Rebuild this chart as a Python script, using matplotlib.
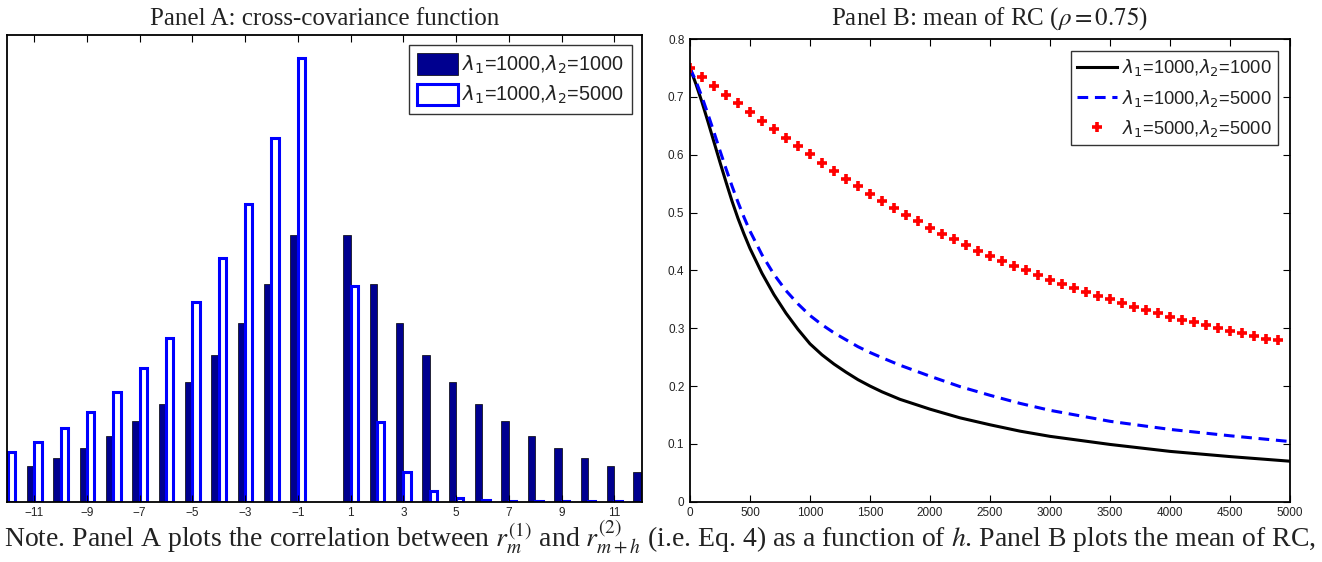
import numpy as np
import matplotlib
matplotlib.use('Agg')
import matplotlib.pyplot as plt

plt.rcParams['font.family'] = ['Liberation Sans', 'DejaVu Sans']
plt.rcParams['mathtext.fontset'] = 'stix'

# Panel A: cross-covariance by lag h (lag 0 is empty)
lags = [-12, -11, -10, -9, -8, -7, -6, -5, -4, -3, -2, -1,
        1, 2, 3, 4, 5, 6, 7, 8, 9, 10, 11, 12]
cov_1000_1000 = [0.044, 0.054, 0.066, 0.081, 0.0985, 0.121, 0.147, 0.18, 0.22, 0.268, 0.327, 0.40,
                 0.40, 0.327, 0.268, 0.22, 0.18, 0.147, 0.121, 0.0985, 0.081, 0.066, 0.054, 0.044]
cov_1000_5000 = [0.074, 0.09, 0.11, 0.135, 0.165, 0.201, 0.245, 0.299, 0.366, 0.447, 0.546, 0.666,
                 0.324, 0.119, 0.044, 0.016, 0.006, 0.0025, 0.0012, 0.0008, 0.0006, 0.0005, 0.0005, 0.0005]
lag_ticks = [-11, -9, -7, -5, -3, -1, 1, 3, 5, 7, 9, 11]

# Panel B: mean of RC
h_lines = [0, 50, 100, 150, 200, 250, 300, 350, 400, 450, 500, 600, 700, 800, 900,
           1000, 1100, 1200, 1300, 1400, 1500, 1600, 1750, 2000, 2250, 2500, 2750,
           3000, 3500, 4000, 4500, 5000]
rc_1000_1000 = [0.750, 0.722, 0.691, 0.657, 0.622, 0.587, 0.553, 0.520, 0.490, 0.463, 0.438, 0.395,
                0.358, 0.326, 0.298,
                0.273, 0.254, 0.238, 0.224, 0.211, 0.200, 0.190, 0.177, 0.160, 0.145, 0.133, 0.122,
                0.113, 0.099, 0.087, 0.078, 0.070]
rc_1000_5000 = [0.750, 0.727, 0.700, 0.670, 0.639, 0.607, 0.576, 0.546, 0.518, 0.492, 0.468, 0.427,
                0.393, 0.365, 0.342,
                0.322, 0.306, 0.292, 0.280, 0.268, 0.258, 0.249, 0.236, 0.217, 0.199, 0.184, 0.170,
                0.158, 0.139, 0.125, 0.114, 0.104]
h_marks = np.arange(0, 5000, 100)
rc_5000_5000 = [0.750, 0.734, 0.719, 0.704, 0.689, 0.674, 0.659, 0.644, 0.629, 0.615,
                0.601, 0.586, 0.572, 0.558, 0.545, 0.532, 0.520, 0.508, 0.496, 0.485,
                0.474, 0.463, 0.454, 0.444, 0.434, 0.425, 0.416, 0.408, 0.400, 0.392,
                0.384, 0.377, 0.370, 0.363, 0.356, 0.350, 0.344, 0.337, 0.331, 0.326,
                0.320, 0.315, 0.311, 0.305, 0.301, 0.296, 0.292, 0.287, 0.282, 0.279]

labels = [r'$\lambda_1$=1000,$\lambda_2$=1000',
          r'$\lambda_1$=1000,$\lambda_2$=5000',
          r'$\lambda_1$=5000,$\lambda_2$=5000']

fig = plt.figure(figsize=(13.22, 5.62), dpi=100)
axA = fig.add_axes([0.0055, 0.1073, 0.4799, 0.8304])
axB = fig.add_axes([0.5219, 0.1073, 0.4539, 0.8233])

# --- Panel A ---
w = 0.28
x = np.array(lags)
axA.bar(x - w, cov_1000_1000, width=w, align='edge', color='#00008F',
        edgecolor='black', linewidth=0.5, label=labels[0])
axA.bar(x, cov_1000_5000, width=w, align='edge', color='white',
        edgecolor='#0000FF', linewidth=2.2, label=labels[1])
axA.set_xlim(-12.02, 12.04)
axA.set_ylim(0, 0.7)
axA.set_yticks([])
axA.set_xticks(lag_ticks)
axA.set_xticklabels([str(t).replace('-', '\u2212') for t in lag_ticks])
axA.tick_params(axis='x', direction='in', top=True, length=5, labelsize=8.5,
                labelcolor='#222222', pad=4)
leg = axA.legend(loc='upper right', fontsize=14.3, frameon=True, fancybox=False,
                 edgecolor='black', handlelength=2.1, handleheight=1.3,
                 handletextpad=0.2, borderpad=0.4, labelspacing=0.4,
                 borderaxespad=0.5)
leg.get_frame().set_linewidth(1.0)
for t in leg.get_texts():
    t.set_color('#222222')
    t.set_math_fontfamily('dejavusans')

# --- Panel B ---
axB.plot(h_lines, rc_1000_1000, color='black', lw=2.2, label=labels[0])
axB.plot(h_lines, rc_1000_5000, color='#0000FF', lw=2.2, dashes=(3.5, 2.2), label=labels[1])
axB.plot(h_marks, rc_5000_5000, ls='none', marker='+', ms=7, mew=2.6,
         color='#FF0000', label=labels[2])
axB.set_xlim(0, 5000)
axB.set_ylim(0, 0.8)
axB.set_xticks(range(0, 5001, 500))
axB.set_yticks([0, 0.1, 0.2, 0.3, 0.4, 0.5, 0.6, 0.7, 0.8])
axB.set_yticklabels(['0', '0.1', '0.2', '0.3', '0.4', '0.5', '0.6', '0.7', '0.8'])
axB.tick_params(direction='in', top=True, right=True, length=5, labelsize=8.5,
                labelcolor='#222222', pad=4)
legB = axB.legend(loc='upper right', fontsize=13.2, frameon=True, fancybox=False,
                  edgecolor='black', handlelength=2.2, handletextpad=0.25,
                  borderpad=0.35, labelspacing=0.5, borderaxespad=0.65)
legB.get_frame().set_linewidth(1.0)
for t in legB.get_texts():
    t.set_color('#222222')
    t.set_math_fontfamily('dejavusans')

for ax in (axA, axB):
    for s in ax.spines.values():
        s.set_linewidth(1.3)

# titles and note
fig.text(0.2455, 1 - 25 / 562, 'Panel A: cross-covariance function', ha='center',
         va='baseline', fontsize=18, family='Liberation Serif', color='#222222')
fig.text(0.7488, 1 - 25 / 562, r'Panel B: mean of RC ($\rho = 0.75$)', ha='center',
         va='baseline', fontsize=18, family='Liberation Serif', color='#222222')
fig.text(0.003, 16 / 562,
         r'Note. Panel A plots the correlation between $r_m^{(1)}$ and $r_{m+h}^{(2)}$ '
         r'(i.e. Eq. 4) as a function of $h$. Panel B plots the mean of RC,',
         ha='left', va='baseline', fontsize=20, family='Liberation Serif', color='#222222')

fig.savefig('out.png', dpi=100)
